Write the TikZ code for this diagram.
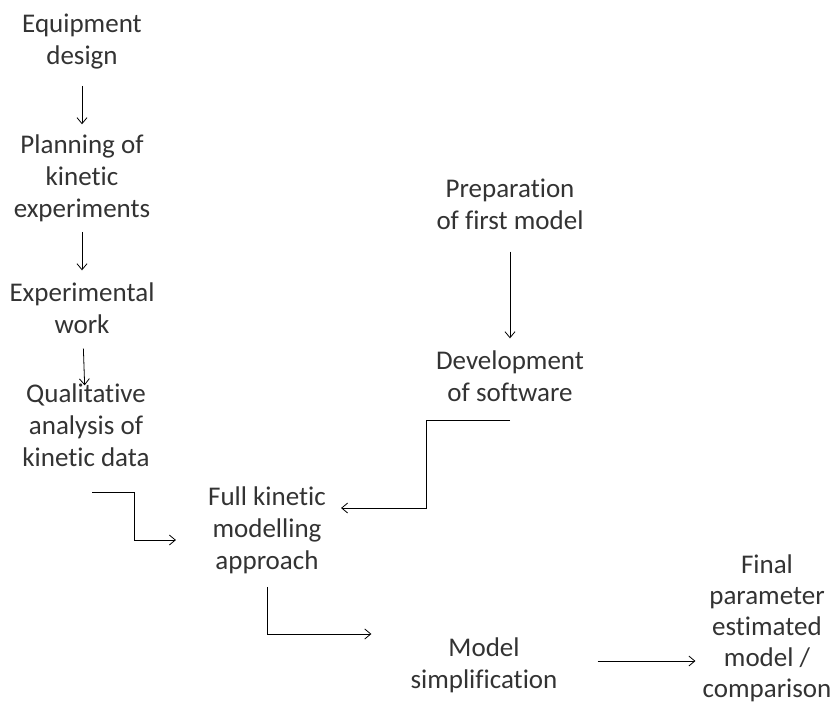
\documentclass[tikz,border=0pt]{standalone}
\usepackage{fontspec}
\setmainfont{Carlito}[Ligatures=NoCommon]
\usetikzlibrary{arrows.meta,calc}

\begin{document}
\begin{tikzpicture}[x=1pt,y=-1pt,
	stage/.style={align=center,inner sep=0pt,text=black!80,font=\fontsize{27}{32}\selectfont},
	arr/.style={-{Straight Barb[length=6pt,width=10pt]},line width=0.8pt}]
	\useasboundingbox (0,0) rectangle (832,704);

	\node[stage] (eq) at (82,42) {Equipment\\design};
	\node[stage] (plan) at (82,178) {Planning of\\kinetic\\experiments};
	\node[stage] (exp) at (82,308) {Experimental\\work};
	\node[stage] (qual) at (86,425) {Qualitative\\analysis of\\kinetic data};
	
	\node[stage] (prep) at (510,204) {Preparation\\of first model};
	\node[stage] (dev) at (510,376) {Development\\of software};
	
	\node[stage] (full) at (267,530) {Full kinetic\\modelling\\approach};
	\node[stage] (simp) at (484,665) {Model\\simplification};
	\node[stage, font=\fontsize{27}{31}\selectfont] (final) at (767,628) {Final\\parameter\\estimated\\model /\\comparison};

	
	\draw [arr, shorten <=16pt, shorten >=10pt] (eq) -- (plan);
	\draw [arr, shorten <=10pt, shorten >=12pt] (plan) -- (exp);
	\draw [arr, shorten <=15pt, shorten >=-2pt] (exp) -- (qual);
	
	\draw [arr, shorten <=22pt, shorten >=12pt] (prep) -- (dev);
	
	\draw [arr] ([xshift=6pt,yshift=-26pt]qual.south) -- ++(42,0) |- ([xshift=-32pt,yshift=-10pt]full.west);
	\draw [arr] ([yshift=-19pt]dev.south) -- ++(-84,0) |- ([xshift=15pt,yshift=22pt]full.east);
	
	\draw [arr] ([yshift=-13pt]full.south) |- ([xshift=-39pt,yshift=31pt]simp.west);
	
	\draw [arr, shorten <=40pt, shorten >=7pt] ([yshift=4pt]simp.east) -- ([yshift=4pt]simp.east -| final.west);
	
	%\draw [arr] (simp) -- (final);
\end{tikzpicture}
\end{document}
